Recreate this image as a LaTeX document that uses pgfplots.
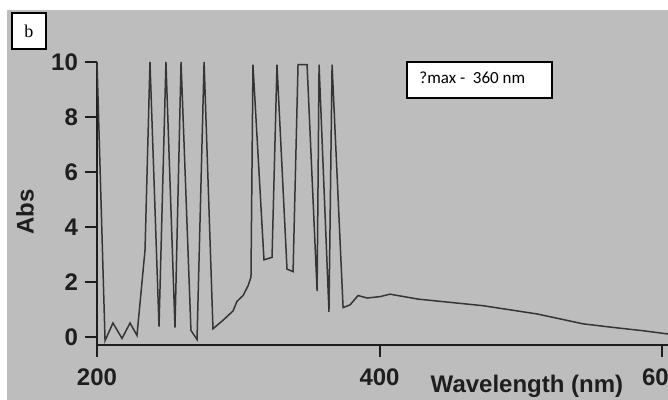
\documentclass[border=0pt]{standalone}
\usepackage{fontspec}
\setmainfont{Liberation Sans}
\newfontfamily\serifb{Liberation Serif}
\newfontfamily\calib{Carlito}
\usepackage{pgfplots}
\pgfplotsset{compat=1.18}
\definecolor{photogray}{RGB}{189,189,189}
\definecolor{ink}{RGB}{30,30,30}

\pgfplotstableread{
nm    abs
200.0 10
205.7 -0.14
211.3 0.50
217.7 -0.06
223.4 0.50
228.3 0.05
234.0 3.16
237.5 10
243.9 0.37
248.8 10
255.2 0.33
259.5 10
266.5 0.23
270.8 -0.10
275.8 10
282.1 0.29
289.2 0.60
296.3 0.94
299.1 1.29
303.4 1.50
306.9 1.85
309.0 2.17
310.4 9.9
318.2 2.80
323.9 2.89
327.4 9.9
334.5 2.46
338.8 2.37
342.3 9.9
348.7 9.9
355.8 1.66
357.2 9.9
364.2 0.91
366.4 9.9
374.2 1.06
379.1 1.16
384.8 1.50
391.2 1.41
400.4 1.46
407.4 1.55
427.3 1.37
473.3 1.13
511.5 0.83
544.1 0.47
565.3 0.34
588.0 0.21
604.2 0.10
}\spectrum

\begin{document}
\begin{tikzpicture}
\useasboundingbox (0,0) rectangle (334pt,200pt);
\clip (0,0) rectangle (334pt,200pt);
\fill[white] (0,0) rectangle (334pt,200pt);
\fill[photogray] (3.5pt,0) rectangle (334pt,195pt);
\begin{axis}[
  at={(48.5pt,27.5pt)}, anchor=south west,
  scale only axis,
  width=285.5pt, height=141.5pt,
  xmin=200, xmax=604.2,
  ymin=-0.3, ymax=10,
  axis lines=left,
  axis line style={-, line width=1.1pt, color=ink},
  clip=false,
  xtick={200,400,600},
  ytick={0,2,4,6,8,10},
  tick align=outside,
  major tick length=6pt,
  tick style={line width=1pt, color=ink},
  /pgf/number format/assume math mode=true,
  /pgf/number format/1000 sep={},
  ticklabel style={font=\fontsize{12}{14}\selectfont\bfseries, color=ink},
  xticklabel style={yshift=-2.5pt},
  xlabel={Wavelength (nm)},
  ylabel={Abs},
  label style={font=\fontsize{12}{14}\selectfont\bfseries, color=ink},
  xlabel style={at={(rel axis cs:0.753,0)}, anchor=base, yshift=-24pt},
  ylabel style={at={(rel axis cs:0,0.47)}, anchor=center, yshift=36pt},
]
\addplot[color=ink!90, line width=0.75pt, line join=miter] table[x=nm, y=abs] {\spectrum};
\end{axis}
\node[draw=black, fill=white, line width=0.7pt, minimum width=17pt, minimum height=18pt, inner sep=0pt]
  at (14.5pt,184.5pt) {\serifb\fontsize{9}{10}\selectfont b};
\draw[black, fill=white, line width=0.7pt] (203.5pt,151pt) rectangle (276pt,169pt);
\node[anchor=base west, inner sep=0pt] at (209.5pt,158pt) {\calib\fontsize{8.5}{10}\selectfont ?max -\ \ 360 nm};
\end{tikzpicture}
\end{document}
